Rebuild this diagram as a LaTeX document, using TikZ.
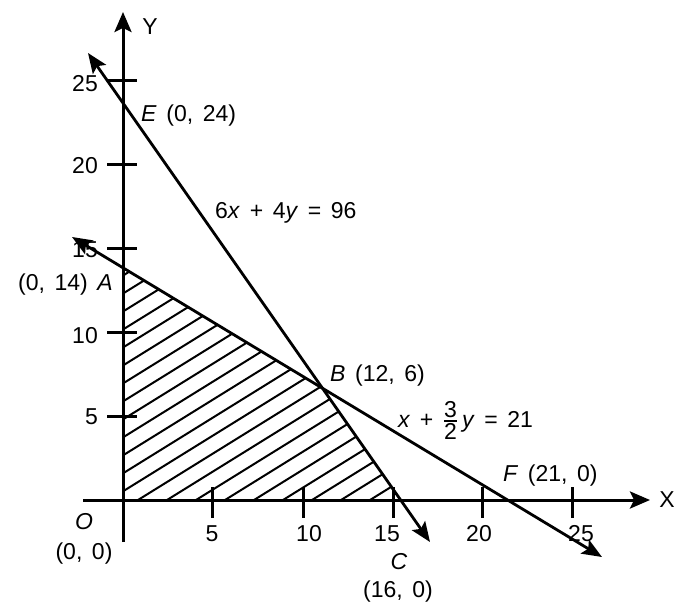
\documentclass[tikz,border=0pt]{standalone}
\usepackage{fontspec}
\setmainfont{Liberation Sans}[WordSpace=1.5]
\usetikzlibrary{arrows.meta}
\begin{document}
\begin{tikzpicture}[x=1pt,y=-1pt,
  axis/.style={line width=3pt, -{Stealth[length=20pt,width=17pt,inset=4pt]}},
  bound/.style={line width=2.8pt, {Stealth[length=20pt,width=16pt,inset=4pt]}-{Stealth[length=20pt,width=16pt,inset=4pt]}},
  tickmark/.style={line width=3pt},
  hatchline/.style={line width=2pt},
  lbl/.style={font=\fontsize{23}{27}\selectfont, inner sep=0pt},
]
\useasboundingbox (0,0) rectangle (676,605);
% axes and boundary lines end points
\coordinate (O) at (123,500);
\coordinate (Xs) at (83,500);
\coordinate (Xe) at (650,500);
\coordinate (Ys) at (123,542);
\coordinate (Ye) at (123,12);
\coordinate (L1a) at (88,53);
\coordinate (L1b) at (430,542);
\coordinate (L2a) at (72,237);
\coordinate (L2b) at (602,557);
\coordinate (A) at (intersection of L2a--L2b and Ys--Ye);
\coordinate (B) at (intersection of L1a--L1b and L2a--L2b);
\coordinate (C) at (intersection of L1a--L1b and Xs--Xe);
% hatched feasible region
\begin{scope}
  \clip (O) -- (A) -- (B) -- (C) -- cycle;
  \foreach \k in {-22,...,10} \draw[hatchline] (138+29*\k,500) -- ++(420,-260.4);
\end{scope}
% axes
\draw[axis] (Xs) -- (Xe);
\draw[axis] (Ys) -- (Ye);
% constraint lines
\draw[bound] (L1a) -- (L1b);
\draw[bound] (L2a) -- (L2b);
% ticks
\foreach \yy in {80,164,248,332,416} \draw[tickmark] (107,\yy) -- (137,\yy);
\foreach \xx in {212,303,393,482,572} \draw[tickmark] (\xx,487) -- (\xx,518);
% tick labels
\node[lbl, anchor=east] (y25) at (98,84) {25};
\node[lbl, anchor=east] (y20) at (98,166) {20};
\node[lbl, anchor=east] (y15) at (98,250) {15};
\node[lbl, anchor=east] (y10) at (98,336) {10};
\node[lbl, anchor=east] (y5) at (98,417) {5};
\node[lbl] (x5) at (212,534) {5};
\node[lbl] (x10) at (309,534) {10};
\node[lbl] (x15) at (387,534) {15};
\node[lbl] (x20) at (479,534) {20};
\node[lbl] (x25) at (581,534) {25};
% axis labels
\node[lbl] (ylab) at (150,27) {Y};
\node[lbl] (xlab) at (667,500) {X};
% point labels
\node[lbl] (Olab) at (84,522) {\textit{O}};
\node[lbl] (Ocoord) at (84,554) {(0, 0)};
\node[lbl, anchor=west] (Elab) at (141,116) {\textit{E} (0, 24)};
\node[lbl, anchor=west] (eq1) at (215,213) {6\textit{x} + 4\textit{y} = 96};
\node[lbl, anchor=east] (Alab) at (113,285) {(0, 14) \textit{A}};
\node[lbl, anchor=west] (Blab) at (330,376) {\textit{B} (12, 6)};
\node[lbl, anchor=base west] (eq2) at (398,427) {\textit{x} + ${\displaystyle\mbox{3}\above 1.5pt\mbox{2}}$\,\textit{y} = 21};
\node[lbl, anchor=west] (Flab) at (503,476) {\textit{F} (21, 0)};
\node[lbl] (Clab) at (399,562) {\textit{C}};
\node[lbl] (Ccoord) at (398,592) {(16, 0)};
\end{tikzpicture}
\end{document}
